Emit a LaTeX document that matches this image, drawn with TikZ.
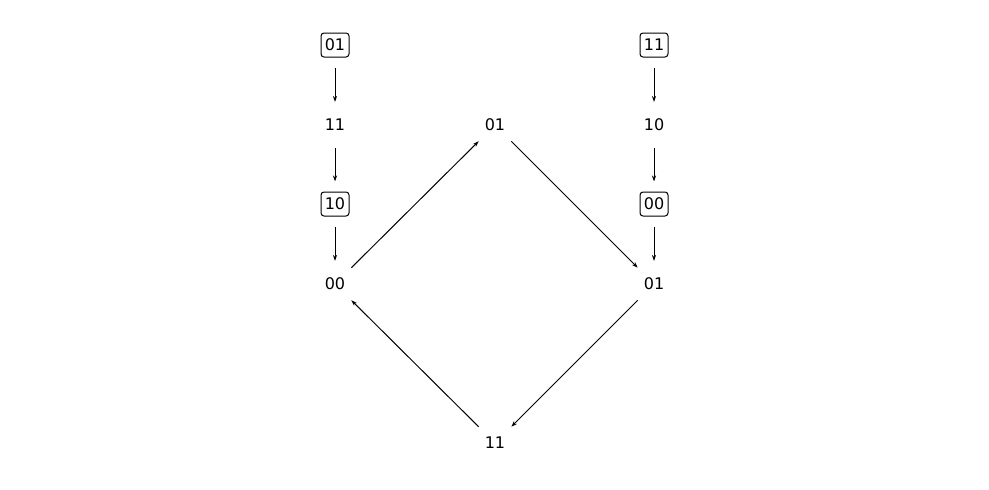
\documentclass[tikz,border=0pt]{standalone}
\usepackage{fontspec}
\setmainfont{DejaVu Sans}
\usetikzlibrary{arrows.meta}
\begin{document}
\begin{tikzpicture}[x=1pt,y=-1pt,
  st/.style={font=\fontsize{16}{18}\selectfont,minimum width=28pt,minimum height=25pt,inner sep=0pt,outer sep=10.5pt},
  bx/.style={st,draw,rounded corners=3pt,line width=1pt,minimum height=24pt},
  ar/.style={-{Stealth[length=6pt,width=4pt]},line width=1pt},
  dg/.style={ar,shorten <=23pt,shorten >=23pt}]
\useasboundingbox (0,0) rectangle (989,490);
\node[bx] (l1) at (335,45) {01};
\node[st] (l2) at (335,125) {11};
\node[bx] (l3) at (335,204) {10};
\node[st] (l4) at (335,284) {00};
\node[st] (m1) at (495,125) {01};
\node[st] (m2) at (495,443) {11};
\node[bx] (r1) at (654,45) {11};
\node[st] (r2) at (654,125) {10};
\node[bx] (r3) at (654,204) {00};
\node[st] (r4) at (654,284) {01};
\draw[ar] (l1) -- (l2);
\draw[ar] (l2) -- (l3);
\draw[ar] (l3) -- (l4);
\draw[ar] (r1) -- (r2);
\draw[ar] (r2) -- (r3);
\draw[ar] (r3) -- (r4);
\draw[dg] (l4.center) -- (m1.center);
\draw[dg] (m1.center) -- (r4.center);
\draw[dg] (r4.center) -- (m2.center);
\draw[dg] (m2.center) -- (l4.center);
\end{tikzpicture}
\end{document}
